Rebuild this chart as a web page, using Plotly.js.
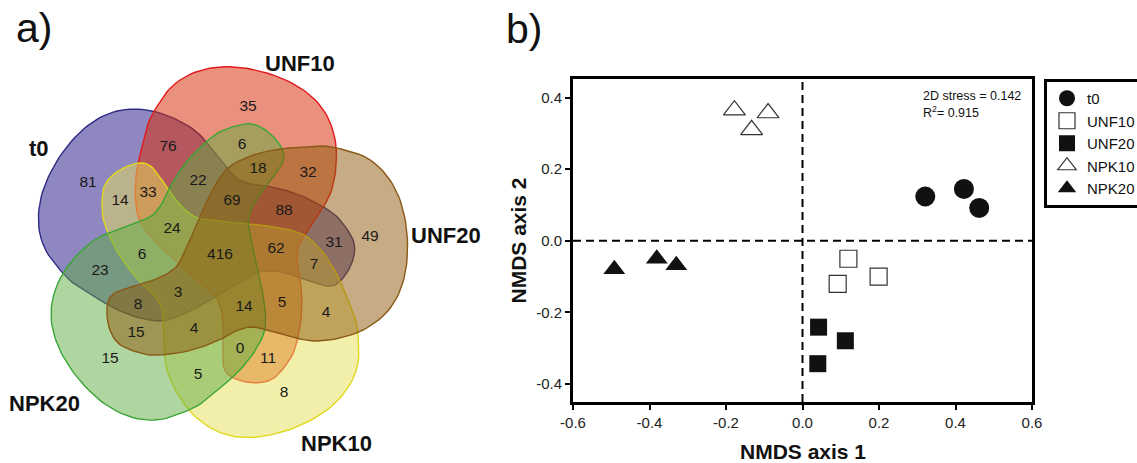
<!DOCTYPE html>
<html><head><meta charset="utf-8">
<script src="https://cdn.plot.ly/plotly-3.0.1.min.js"></script>
<style>html,body{margin:0;padding:0;background:#fff;}#chart{width:1137px;height:463px;}</style>
</head><body><div id="chart"></div>
<script>
// ================= DATA =================
// a) Venn diagram
const setNames = ['t0', 'UNF10', 'UNF20', 'NPK10', 'NPK20'];
const regionSets = [
  't0', 'UNF10', 'UNF20', 'NPK10', 'NPK20',
  't0+UNF10', 'UNF10+UNF20', 'UNF20+NPK10', 'NPK10+NPK20', 'NPK20+t0',
  't0+NPK10', 'UNF10+NPK20', 'UNF20+t0', 'NPK10+UNF10', 'NPK20+UNF20',
  't0+UNF10+NPK10', 'UNF10+UNF20+NPK20', 'UNF20+NPK10+t0', 'NPK10+NPK20+UNF10', 'NPK20+t0+UNF20',
  't0+UNF10+NPK20', 't0+UNF10+UNF20', 'UNF10+UNF20+NPK10', 'UNF20+NPK10+NPK20', 'NPK10+NPK20+t0',
  't0+UNF10+NPK10+NPK20', 't0+UNF10+UNF20+NPK20', 't0+UNF10+UNF20+NPK10', 'UNF10+UNF20+NPK10+NPK20', 't0+UNF20+NPK10+NPK20',
  't0+UNF10+UNF20+NPK10+NPK20'
];
const regionCounts = [
  81, 35, 49, 8, 15,
  76, 32, 4, 5, 23,
  14, 6, 31, 11, 15,
  33, 18, 7, 0, 8,
  22, 88, 5, 4, 6,
  24, 69, 62, 14, 3,
  416
];

// b) NMDS ordination
const groupNames = ['t0', 'UNF10', 'UNF20', 'NPK10', 'NPK20'];
const t0X = [0.321, 0.422, 0.462];
const t0Y = [0.124, 0.145, 0.092];
const unf10X = [0.120, 0.092, 0.199];
const unf10Y = [-0.050, -0.120, -0.100];
const unf20X = [0.042, 0.040, 0.112];
const unf20Y = [-0.241, -0.343, -0.279];
const npk10X = [-0.178, -0.133, -0.090];
const npk10Y = [0.365, 0.310, 0.357];
const npk20X = [-0.492, -0.381, -0.330];
const npk20Y = [-0.079, -0.050, -0.068];
const xRange = [-0.6, 0.6];
const yRange = [-0.450, 0.452];
const xTickVals = [-0.6, -0.4, -0.2, 0.0, 0.2, 0.4, 0.6];
const xTickText = ['-0.6', '-0.4', '-0.2', '0.0', '0.2', '0.4', '0.6'];
const yTickVals = [-0.4, -0.2, 0.0, 0.2, 0.4];
const yTickText = ['-0.4', '-0.2', '0.0', '0.2', '0.4'];
const stressText = '2D stress = 0.142';
const r2Text = 'R<sup>2</sup>= 0.915';

// ================= GEOMETRY / STYLE =================
const FONT = 'Liberation Sans, Arial, Helvetica, sans-serif';
const W = 1137, H = 463;
const VENN_CENTER = [220, 255];
// outline of one Venn lobe (drawn as the UNF20 one), in panel pixels; the others are rotations of it
const baseOutline = [[183,255],[190,240],[198,221],[207,201],[217,182],[228,168],[243,159],[260,153],[280,149],[305,147],[323,146],[341,149],[363,156],[380,168],[393,185],[402,206],[407,233],[407,260],[403,282],[395,301],[382,317],[363,330],[340,338],[317,341],[300,339],[282,334],[264,329],[250,327],[236,331],[217,341],[192,350],[170,354],[150,355],[131,350],[117,342],[109,327],[107,308],[112,295],[128,288],[148,282],[165,275],[177,266]];
const baseIndex = 2;
const vennFill = ['rgba(29,15,129,0.5)', 'rgba(215,45,5,0.52)', 'rgba(141,87,9,0.5)', 'rgba(229,223,85,0.5)', 'rgba(95,171,65,0.5)'];
const vennLine = ['#2e2a85', '#e31a1c', '#8a5a17', '#e0d81c', '#3aa635'];
const drawOrder = [0, 1, 3, 4, 2];
const setLabelPos = {t0: [39, 148], UNF10: [300, 63], UNF20: [446, 235], NPK10: [336, 443], NPK20: [44, 403]};

function rotatePts(pts, deg) {
  const a = deg * Math.PI / 180, c = Math.cos(a), s = Math.sin(a);
  return pts.map(([x, y]) => {
    const dx = x - VENN_CENTER[0], dy = y - VENN_CENTER[1];
    return [VENN_CENTER[0] + dx * c - dy * s, VENN_CENTER[1] + dx * s + dy * c];
  });
}
function smoothClosed(pts, n) {
  const N = pts.length, out = [];
  for (let i = 0; i < N; i++) {
    const p0 = pts[(i - 1 + N) % N], p1 = pts[i], p2 = pts[(i + 1) % N], p3 = pts[(i + 2) % N];
    for (let j = 0; j < n; j++) {
      const t = j / n, t2 = t * t, t3 = t2 * t;
      const f = (a, b, c, d) => 0.5 * (2 * b + (-a + c) * t + (2 * a - 5 * b + 4 * c - d) * t2 + (-a + 3 * b - 3 * c + d) * t3);
      out.push([f(p0[0], p1[0], p2[0], p3[0]), f(p0[1], p1[1], p2[1], p3[1])]);
    }
  }
  return out;
}
function inside(poly, x, y) {
  let c = false;
  for (let i = 0, j = poly.length - 1; i < poly.length; j = i++) {
    const xi = poly[i][0], yi = poly[i][1], xj = poly[j][0], yj = poly[j][1];
    if (((yi > y) !== (yj > y)) && (x < (xj - xi) * (y - yi) / (yj - yi) + xi)) c = !c;
  }
  return c;
}
const smoothBase = smoothClosed(baseOutline, 5);
const vennPolys = setNames.map((_, k) => rotatePts(smoothBase, (k - baseIndex) * 72));

// label position of every region: an interior point of the region, close to its centroid
const segs = [];
vennPolys.forEach(p => { for (let i = 0; i < p.length; i++) { const a = p[i], b = p[(i + 1) % p.length]; segs.push([a[0], a[1], b[0] - a[0], b[1] - a[1]]); } });
const cells = {};
for (let y = 50; y <= 440; y += 2) {
  for (let x = 20; x <= 440; x += 2) {
    let mask = 0;
    for (let k = 0; k < 5; k++) if (inside(vennPolys[k], x, y)) mask |= (1 << k);
    if (!mask) continue;
    let dmin = 1e9;
    for (let s = 0; s < segs.length; s++) {
      const sg = segs[s];
      const l2 = sg[2] * sg[2] + sg[3] * sg[3];
      let t = l2 ? ((x - sg[0]) * sg[2] + (y - sg[1]) * sg[3]) / l2 : 0;
      t = t < 0 ? 0 : t > 1 ? 1 : t;
      const ex = sg[0] + t * sg[2] - x, ey = sg[1] + t * sg[3] - y;
      const d = ex * ex + ey * ey;
      if (d < dmin) dmin = d;
    }
    (cells[mask] = cells[mask] || []).push([x, y, Math.sqrt(dmin)]);
  }
}
const best = {};
Object.keys(cells).forEach(m => {
  const pts = cells[m];
  let cx = 0, cy = 0;
  pts.forEach(p => { cx += p[0]; cy += p[1]; });
  cx /= pts.length; cy /= pts.length;
  let bs = -1e9, bp = null;
  pts.forEach(p => {
    const sc = Math.min(p[2], 12) - 0.05 * Math.hypot(p[0] - cx, p[1] - cy);
    if (sc > bs) { bs = sc; bp = p; }
  });
  best[m] = {x: bp[0], y: bp[1]};
});
const labelX = [], labelY = [];
regionSets.forEach(r => {
  let m = 0;
  r.split('+').forEach(n => { m |= (1 << setNames.indexOf(n)); });
  const b = best[m] || {x: VENN_CENTER[0], y: VENN_CENTER[1]};
  labelX.push(b.x); labelY.push(b.y + 1);
});

// ================= TRACES =================
const traces = [];
drawOrder.forEach(k => {
  const p = vennPolys[k];
  traces.push({
    type: 'scatter', mode: 'lines', xaxis: 'x', yaxis: 'y',
    x: p.map(q => q[0]).concat([p[0][0]]), y: p.map(q => q[1]).concat([p[0][1]]),
    fill: 'toself', fillcolor: vennFill[k], line: {color: vennLine[k], width: 1.4},
    name: setNames[k], showlegend: false, hoverinfo: 'skip'
  });
});
traces.push({
  type: 'scatter', mode: 'text', xaxis: 'x', yaxis: 'y',
  x: labelX, y: labelY, text: regionCounts.map(String),
  textfont: {family: FONT, size: 15.5, color: '#1a1a1a'}, textposition: 'middle center',
  showlegend: false, hoverinfo: 'skip'
});

// dashed reference lines through the origin
const dashLine = {color: '#000', width: 2, dash: '8px,5px'};
traces.push({type: 'scatter', mode: 'lines', xaxis: 'x2', yaxis: 'y2', x: [0, 0], y: yRange, line: dashLine,
  showlegend: false, hoverinfo: 'skip', cliponaxis: true});
traces.push({type: 'scatter', mode: 'lines', xaxis: 'x2', yaxis: 'y2', x: xRange, y: [0, 0], line: dashLine,
  showlegend: false, hoverinfo: 'skip', cliponaxis: true});

const markerDefs = [
  {x: t0X, y: t0Y, symbol: 'circle', size: 20, color: '#111111', line: {width: 0}},
  {x: unf10X, y: unf10Y, symbol: 'square', size: 17, color: '#ffffff', line: {color: '#333333', width: 1.2}},
  {x: unf20X, y: unf20Y, symbol: 'square', size: 17, color: '#111111', line: {width: 0}},
  {x: npk10X, y: npk10Y, symbol: 'triangle-up', size: 19, color: '#ffffff', line: {color: '#333333', width: 1.2}},
  {x: npk20X, y: npk20Y, symbol: 'triangle-up', size: 19, color: '#111111', line: {width: 0}}
];
markerDefs.forEach((m, i) => {
  traces.push({
    type: 'scatter', mode: 'markers', xaxis: 'x2', yaxis: 'y2', name: groupNames[i],
    x: m.x, y: m.y, marker: {symbol: m.symbol, size: m.size, color: m.color, line: m.line}
  });
});

// ================= LAYOUT =================
const annotations = [];
setNames.forEach(n => {
  annotations.push({xref: 'x', yref: 'y', x: setLabelPos[n][0], y: setLabelPos[n][1], text: '<b>' + n + '</b>',
    showarrow: false, xanchor: 'center', yanchor: 'middle', font: {family: FONT, size: 22, color: '#111'}});
});
annotations.push({xref: 'paper', yref: 'paper', x: 14 / W, y: 1 - 28 / H, text: 'a)', showarrow: false,
  xanchor: 'left', yanchor: 'middle', font: {family: FONT, size: 41, color: '#111'}});
annotations.push({xref: 'paper', yref: 'paper', x: 504 / W, y: 1 - 29 / H, text: 'b)', showarrow: false,
  xanchor: 'left', yanchor: 'middle', font: {family: FONT, size: 41, color: '#111'}});
annotations.push({xref: 'x2 domain', yref: 'paper', x: 0.5, y: 1 - 451 / H, text: '<b>NMDS axis 1</b>', showarrow: false,
  xanchor: 'center', yanchor: 'middle', font: {family: FONT, size: 21, color: '#111'}});
annotations.push({xref: 'paper', yref: 'y2 domain', x: 518 / W, y: 0.5, text: '<b>NMDS axis 2</b>', showarrow: false, textangle: -90,
  xanchor: 'center', yanchor: 'middle', font: {family: FONT, size: 21, color: '#111'}});
annotations.push({xref: 'x2', yref: 'y2', x: 0.31, y: 0.405, text: stressText, showarrow: false,
  xanchor: 'left', yanchor: 'middle', font: {family: FONT, size: 12.5, color: '#111'}});
annotations.push({xref: 'x2', yref: 'y2', x: 0.31, y: 0.36, text: r2Text, showarrow: false,
  xanchor: 'left', yanchor: 'middle', font: {family: FONT, size: 12.5, color: '#111'}});

const axFrame = {showline: true, linecolor: '#000', linewidth: 3, mirror: true, showgrid: false, zeroline: false,
  ticks: 'outside', ticklen: 5, tickwidth: 2, tickcolor: '#000', tickfont: {family: FONT, size: 15, color: '#222'}, fixedrange: true};

const layout = {
  width: W, height: H, paper_bgcolor: '#fff', plot_bgcolor: 'rgba(0,0,0,0)',
  margin: {l: 0, r: 0, t: 0, b: 0, pad: 0, autoexpand: false},
  font: {family: FONT, color: '#111'},
  xaxis: {domain: [0, 480 / W], range: [0, 480], visible: false, fixedrange: true},
  yaxis: {domain: [0, 1], range: [H, 0], visible: false, fixedrange: true},
  xaxis2: Object.assign({}, axFrame, {domain: [573 / W, 1032 / W], anchor: 'y2', range: xRange,
    tickmode: 'array', tickvals: xTickVals, ticktext: xTickText}),
  yaxis2: Object.assign({}, axFrame, {domain: [1 - 402 / H, 1 - 79 / H], anchor: 'x2', range: yRange,
    tickmode: 'array', tickvals: yTickVals, ticktext: yTickText}),
  annotations: annotations,
  showlegend: true,
  legend: {x: 1044 / W, y: 1 - 79 / H, xanchor: 'left', yanchor: 'top', bgcolor: '#fff', bordercolor: '#000', borderwidth: 3,
    font: {family: FONT, size: 15, color: '#111'}, tracegroupgap: 0, itemclick: false, itemdoubleclick: false}
};

Plotly.newPlot('chart', traces, layout, {displayModeBar: false, staticPlot: true});
</script></body></html>
